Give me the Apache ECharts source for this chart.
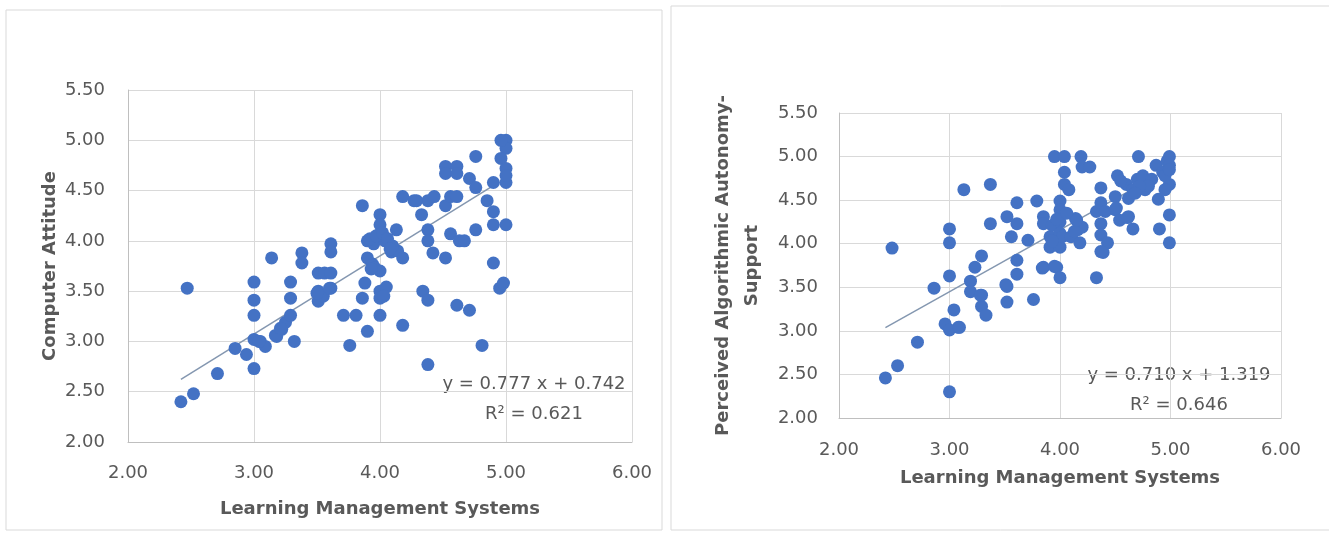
<!DOCTYPE html>
<html><head><meta charset="utf-8">
<script src="https://cdn.jsdelivr.net/npm/echarts@6/dist/echarts.min.js"></script>
<style>html,body{margin:0;padding:0;background:#fff}#c{width:1329px;height:533px}</style>
</head><body><div id="c"></div>
<script>
// ---- Data: left chart (Computer Attitude vs LMS) ----
const lmsA = [2.42,2.52,2.47,2.71,2.85,2.94,3.00,3.00,3.00,3.00,3.00,3.05,3.09,3.14,3.18,3.22,3.25,3.29,3.29,3.29,
  3.32,3.38,3.38,3.51,3.51,3.51,3.56,3.61,3.61,3.61,3.61,3.71,3.76,3.81,3.86,3.88,3.86,3.90,3.90,3.90,
  3.94,3.95,3.99,4.00,4.00,4.00,4.00,4.00,4.00,4.04,4.05,4.09,4.13,4.14,4.18,4.18,4.18,4.27,4.33,4.34,
  4.38,4.38,4.38,4.38,4.38,4.43,4.42,4.52,4.52,4.52,4.52,4.56,4.56,4.61,4.61,4.61,4.61,4.63,4.67,4.71,
  4.71,4.76,4.76,4.76,4.81,4.85,4.90,4.90,4.90,4.90,4.95,4.98,5.00,5.00,5.00,4.96,5.00,5.00,5.00,4.96,
  3.92,3.97,4.02,4.06,3.96,4.10,3.55,3.93,4.03,4.08,4.29,3.17,3.21,3.04,3.60,3.50];
const attitudeA = [2.40,2.48,3.53,2.68,2.93,2.87,2.73,3.02,3.26,3.41,3.59,3.00,2.95,3.83,3.05,3.12,3.19,3.26,3.43,3.59,
  3.00,3.88,3.78,3.68,3.50,3.40,3.68,3.68,3.53,3.97,3.89,3.26,2.96,3.26,4.35,3.58,3.43,3.10,3.83,4.00,
  3.77,3.97,4.06,4.26,4.16,3.70,3.50,3.43,3.26,4.00,3.54,3.89,4.11,3.90,3.83,3.16,4.44,4.40,4.26,3.50,
  3.41,2.77,4.11,4.00,4.40,4.44,3.88,3.83,4.35,4.74,4.67,4.44,4.07,3.36,4.74,4.67,4.44,4.00,4.00,4.62,
  3.31,4.53,4.11,4.84,2.96,4.40,4.29,4.16,4.58,3.78,3.53,3.58,4.16,5.00,4.92,4.82,4.72,4.58,4.65,5.00,
  4.02,4.05,4.08,4.02,3.73,3.95,3.45,3.72,3.45,3.92,4.40,3.06,3.13,3.00,3.53,3.48];
// ---- Data: right chart (Perceived Algorithmic Autonomy-Support vs LMS) ----
const lmsB = [2.42,2.53,2.48,2.71,2.86,2.96,3.00,3.00,3.00,3.00,3.00,3.04,3.08,3.13,3.19,3.19,3.23,3.29,3.29,3.29,
  3.33,3.37,3.37,3.52,3.52,3.52,3.56,3.61,3.61,3.61,3.61,3.71,3.76,3.79,3.85,3.85,3.85,3.91,3.91,3.93,
  3.95,3.97,4.00,4.00,4.00,4.00,4.00,4.00,4.02,4.04,4.04,4.04,4.08,4.10,4.14,4.16,4.18,4.19,4.20,4.27,
  4.20,4.33,4.33,4.37,4.37,4.37,4.37,4.39,4.43,4.41,4.50,4.50,4.52,4.54,4.60,4.62,4.62,4.66,4.66,4.70,
  4.71,4.75,4.77,4.83,4.87,4.89,4.90,4.93,4.97,4.99,4.99,4.99,4.99,4.99,4.95,
  3.84,3.95,4.37,4.61,4.51,4.80,4.72,4.68,4.55,4.95,4.99,3.93,3.97,4.06,4.13,4.15,3.28,3.09,3.51];
const supportB = [2.46,2.60,3.95,2.87,3.49,3.08,3.01,2.30,3.63,4.01,4.17,3.24,3.04,4.62,3.57,3.45,3.73,3.86,3.41,3.28,
  3.18,4.68,4.23,4.31,3.51,3.33,4.08,4.47,4.23,3.81,3.65,4.04,3.36,4.49,4.31,4.23,3.73,3.96,4.08,4.21,
  5.00,3.73,4.49,4.39,4.25,4.12,3.96,3.61,4.08,5.00,4.82,4.68,4.62,4.08,4.29,4.16,4.01,5.00,4.88,4.88,
  4.19,3.61,4.37,4.64,4.47,4.23,4.10,3.90,4.01,4.37,4.54,4.39,4.78,4.27,4.68,4.52,4.31,4.17,4.62,4.74,
  5.00,4.78,4.62,4.74,4.90,4.51,4.17,4.82,4.95,5.00,4.68,4.90,4.33,4.01,4.78,
  3.72,3.74,3.91,4.30,4.41,4.66,4.66,4.58,4.72,4.62,4.85,4.03,4.28,4.35,4.14,4.27,3.41,3.04,3.53];
// ---- Trendlines (from the equations shown) ----
const trendA = [0.777, 0.742];
const trendB = [0.710, 1.319];
const trendRangeA = [2.42, 4.88];
const trendRangeB = [2.42, 4.88];
const eqA = ['y = 0.777 x + 0.742', 'R² = 0.621'];
const eqB = ['y = 0.710 x + 1.319', 'R² = 0.646'];
// ---- Axis ----
const xRange = [2, 6, 1];
const yRange = [2, 5.5, 0.5];
const xTitle = 'Learning Management Systems';
const yTitleA = 'Computer Attitude';
const yTitleB = 'Perceived Algorithmic Autonomy-\nSupport';

const FONT = 'DejaVu Sans';
const TXT = '#595959';
const pts = (xs, ys) => xs.map((x, i) => [x, ys[i]]);
const trend = (c, r) => r.map(x => [x, c[0] * x + c[1]]);

function xAx(idx, gap, margin) {
  return {gridIndex: idx, type: 'value', min: xRange[0], max: xRange[1], interval: xRange[2],
    name: xTitle, nameLocation: 'middle', nameGap: gap,
    nameTextStyle: {fontFamily: FONT, fontWeight: 'bold', fontSize: 18, color: TXT},
    axisLine: {show: true, lineStyle: {color: '#bfbfbf'}}, axisTick: {show: false},
    axisLabel: {margin: margin, fontFamily: FONT, fontSize: 18, color: TXT, formatter: v => v.toFixed(2)},
    splitLine: {show: true, lineStyle: {color: '#d9d9d9'}}};
}
function yAx(idx, name, gap, margin, lh) {
  return {gridIndex: idx, type: 'value', min: yRange[0], max: yRange[1], interval: yRange[2],
    name: name, nameLocation: 'middle', nameGap: gap,
    nameTextStyle: {fontFamily: FONT, fontWeight: 'bold', fontSize: 18, color: TXT, lineHeight: lh},
    axisLine: {show: true, lineStyle: {color: '#bfbfbf'}}, axisTick: {show: false},
    axisLabel: {margin: margin, fontFamily: FONT, fontSize: 18, color: TXT, formatter: v => v.toFixed(2)},
    splitLine: {show: true, lineStyle: {color: '#d9d9d9'}}};
}
const eqStyle = {fontFamily: FONT, fontSize: 18, fill: TXT, textAlign: 'center', textVerticalAlign: 'middle'};

const chart = echarts.init(document.getElementById('c'), null, {renderer: 'canvas'});
chart.setOption({
  animation: false,
  backgroundColor: '#fff',
  grid: [
    {left: 128, top: 90, width: 504, height: 352},
    {left: 839, top: 113, width: 442, height: 305}
  ],
  xAxis: [xAx(0, 58, 22), xAx(1, 51, 23)],
  yAxis: [yAx(0, yTitleA, 57, 23, 22), yAx(1, yTitleB, 72, 21, 29)],
  series: [
    {type: 'line', xAxisIndex: 0, yAxisIndex: 0, data: trend(trendA, trendRangeA), symbol: 'none', silent: true,
      lineStyle: {color: '#8497b0', width: 1.5}, z: 1},
    {type: 'scatter', xAxisIndex: 0, yAxisIndex: 0, data: pts(lmsA, attitudeA), symbolSize: 13,
      itemStyle: {color: '#4472c4', opacity: 1}, z: 2},
    {type: 'line', xAxisIndex: 1, yAxisIndex: 1, data: trend(trendB, trendRangeB), symbol: 'none', silent: true,
      lineStyle: {color: '#8497b0', width: 1.5}, z: 1},
    {type: 'scatter', xAxisIndex: 1, yAxisIndex: 1, data: pts(lmsB, supportB), symbolSize: 13,
      itemStyle: {color: '#4472c4', opacity: 1}, z: 2}
  ],
  graphic: [
    {type: 'rect', shape: {x: 6, y: 10, width: 656, height: 520}, style: {fill: 'none', stroke: '#d9d9d9', lineWidth: 1}, silent: true},
    {type: 'rect', shape: {x: 671, y: 6, width: 670, height: 524}, style: {fill: 'none', stroke: '#d9d9d9', lineWidth: 1}, silent: true},
    {type: 'text', x: 534, y: 384, style: Object.assign({text: eqA[0]}, eqStyle)},
    {type: 'text', x: 534, y: 414, style: Object.assign({text: eqA[1]}, eqStyle)},
    {type: 'text', x: 1179, y: 375, style: Object.assign({text: eqB[0]}, eqStyle)},
    {type: 'text', x: 1179, y: 405, style: Object.assign({text: eqB[1]}, eqStyle)}
  ]
});
</script></body></html>
